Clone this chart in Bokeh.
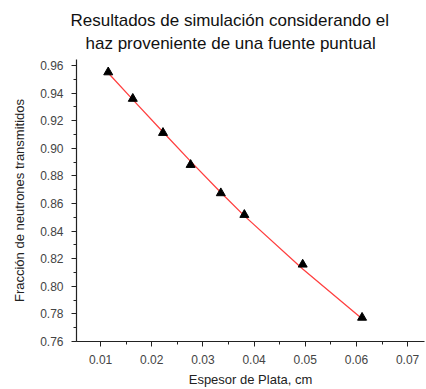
from bokeh.plotting import figure
from bokeh.models import Title, Range1d, SingleIntervalTicker, NumeralTickFormatter
from bokeh.embed import file_html
from bokeh.resources import INLINE

# Data
espesor = [0.0115, 0.0163, 0.0222, 0.0276, 0.0335, 0.0381, 0.0495, 0.0611]
fraccion = [0.9551, 0.9359, 0.9112, 0.8880, 0.8675, 0.8518, 0.8158, 0.7773]
fit_x = [0.0115, 0.0163, 0.0222, 0.0276, 0.0335, 0.0381, 0.0495, 0.0611]
fit_y = [0.9545, 0.9352, 0.9118, 0.8905, 0.8680, 0.8510, 0.8125, 0.7765]
title_lines = ["Resultados de simulación considerando el",
               "haz proveniente de una fuente puntual"]

FONT = "Liberation Sans"

p = figure(width=426, height=389, output_backend="svg", toolbar_location=None,
           title=None, min_border_left=76, min_border_right=2,
           min_border_top=59, min_border_bottom=48,
           x_range=Range1d(0.0053, 0.0733), y_range=Range1d(0.76, 0.9643))

p.add_layout(Title(text=title_lines[1], align="left", vertical_align="top",
                   text_font=FONT, text_font_size="17px", text_font_style="normal",
                   text_color="#111111", offset=9, standoff=10), "above")
p.add_layout(Title(text=title_lines[0], align="left", vertical_align="top",
                   text_font=FONT, text_font_size="17px", text_font_style="normal",
                   text_color="#111111", offset=-6, standoff=-7), "above")

p.line(fit_x, fit_y, line_color="#ff4040", line_width=1.3)
p.scatter(espesor, fraccion, marker="triangle", size=9, fill_color="black",
          line_color="black")

p.xgrid.visible = False
p.ygrid.visible = False
p.outline_line_color = None
p.background_fill_color = "white"
p.border_fill_color = "white"

p.xaxis.ticker = SingleIntervalTicker(interval=0.01, num_minor_ticks=2)
p.yaxis.ticker = SingleIntervalTicker(interval=0.02, num_minor_ticks=2)

for ax in (p.xaxis[0], p.yaxis[0]):
    ax.axis_line_color = "#222222"
    ax.axis_line_width = 1.2
    ax.major_tick_line_color = "#222222"
    ax.minor_tick_line_color = "#222222"
    ax.major_tick_out = 5
    ax.major_tick_in = 0
    ax.minor_tick_out = 3
    ax.minor_tick_in = 0
    ax.major_label_text_font = FONT
    ax.major_label_text_font_size = "12px"
    ax.major_label_text_color = "#444444"
    ax.axis_label_text_font = FONT
    ax.axis_label_text_font_size = "13px"
    ax.axis_label_text_font_style = "normal"
    ax.axis_label_text_color = "#222222"
    ax.formatter = NumeralTickFormatter(format="0.00")

p.xaxis.axis_label = "Espesor de Plata, cm"
p.yaxis.axis_label = "Fracción de neutrones transmitidos"
p.xaxis.axis_label_standoff = 5
p.yaxis.axis_label_standoff = 10
p.xaxis.major_label_standoff = 8
p.yaxis.major_label_standoff = 8

open("out.html", "w").write(file_html(p, INLINE))
